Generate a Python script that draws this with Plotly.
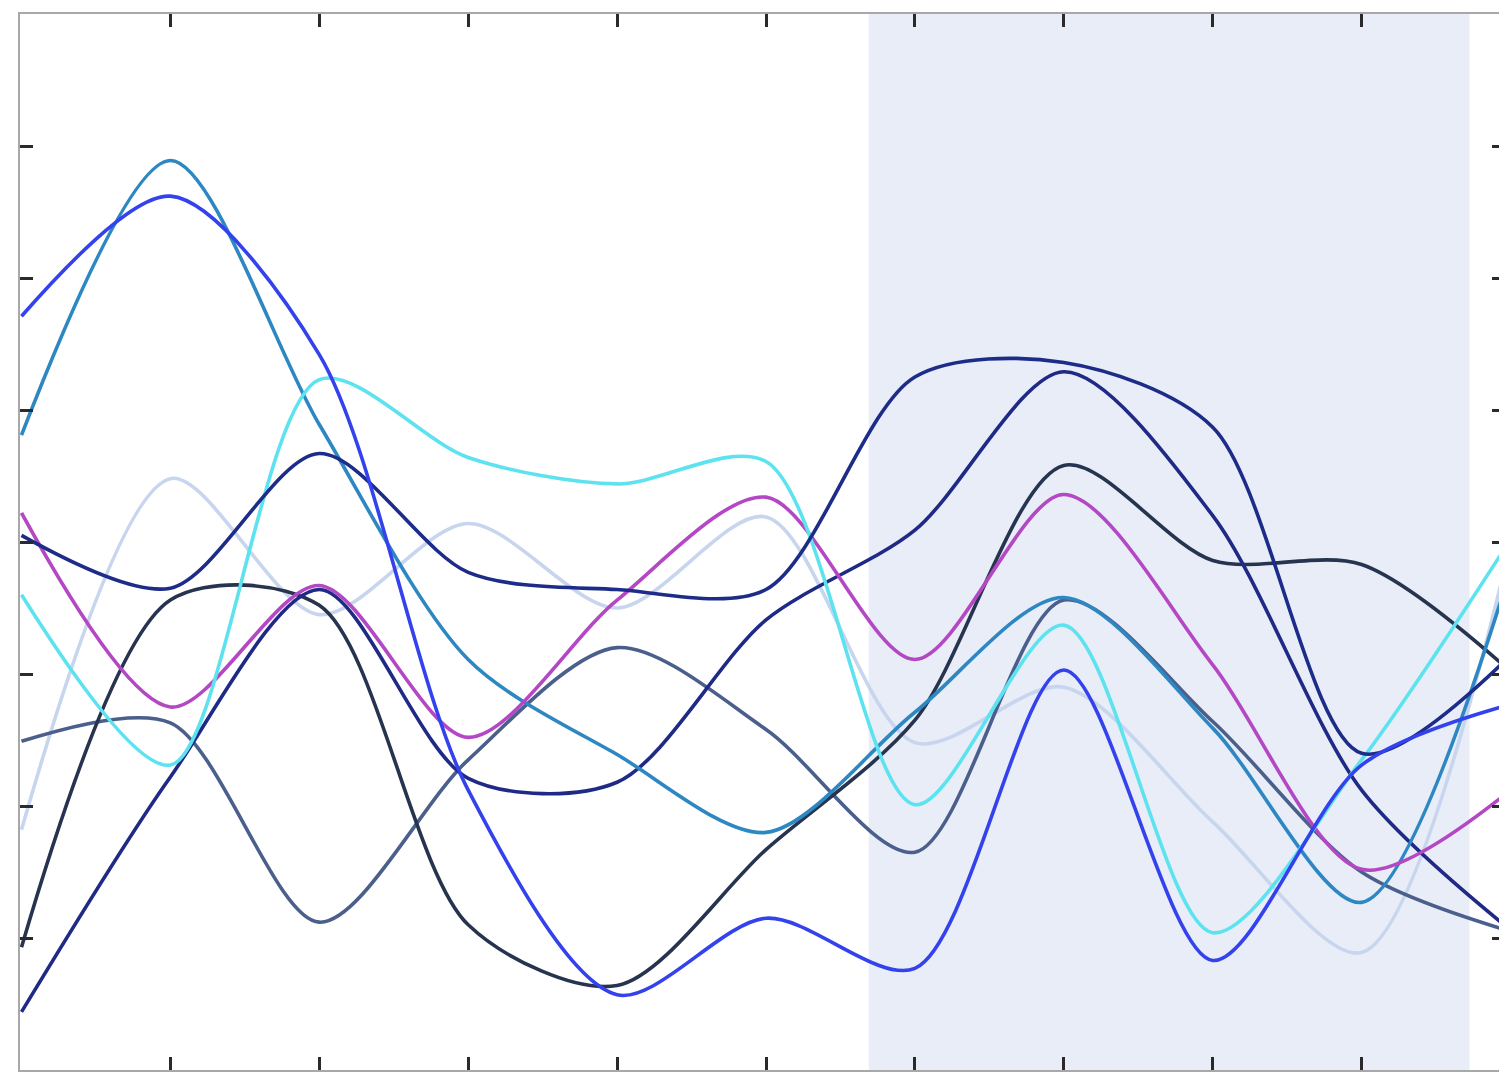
import plotly.graph_objects as go

x_vals = [0, 1, 2, 3, 4, 5, 6, 7, 8, 9, 10]

blue = [5.71, 6.62, 5.42, 2.12, 0.57, 1.15, 0.77, 3.03, 0.83, 2.31, 2.77]
cerulean = [4.81, 6.89, 4.89, 3.11, 2.39, 1.80, 2.71, 3.58, 2.59, 1.27, 3.79]
cyan = [3.60, 2.31, 5.23, 4.64, 4.44, 4.61, 2.01, 3.37, 1.04, 2.35, 4.02]
magenta = [4.22, 2.75, 3.67, 2.52, 3.56, 4.34, 3.11, 4.36, 3.07, 1.52, 2.12]
light_blue = [1.82, 4.48, 3.45, 4.14, 3.50, 4.19, 2.48, 2.90, 1.88, 0.89, 3.98]
navy_a = [4.05, 3.65, 4.67, 3.77, 3.64, 3.64, 5.25, 5.36, 4.87, 2.40, 3.14]
navy_b = [0.44, 2.22, 3.64, 2.21, 2.18, 3.41, 4.09, 5.29, 4.20, 2.12, 1.06]
slate_dark = [0.93, 3.56, 3.52, 1.10, 0.64, 1.67, 2.65, 4.58, 3.86, 3.83, 3.02]
slate_gray = [2.49, 2.63, 1.12, 2.35, 3.20, 2.58, 1.65, 3.56, 2.64, 1.50, 1.05]

x_ticks = [1, 2, 3, 4, 5, 6, 7, 8, 9]
y_ticks = [1, 2, 3, 4, 5, 6, 7]
band = [5.69, 9.725]

series = [
    ("light_blue", light_blue, "#C7D5EE"),
    ("slate_gray", slate_gray, "#4B5F8C"),
    ("slate_dark", slate_dark, "#26344F"),
    ("navy_b", navy_b, "#1E2A86"),
    ("cerulean", cerulean, "#2D87C2"),
    ("magenta", magenta, "#B448C4"),
    ("cyan", cyan, "#5DE2F0"),
    ("navy_a", navy_a, "#1C2C88"),
    ("blue", blue, "#3342EC"),
]

fig = go.Figure()
for name, vals, col in series:
    fig.add_trace(go.Scatter(
        x=x_vals, y=vals, mode="lines", name=name,
        line=dict(color=col, width=3.6, shape="spline", smoothing=0.85),
        showlegend=False,
    ))

fig.add_vrect(x0=band[0], x1=band[1], fillcolor="#E8EDF7", line_width=0, layer="below")

axis_common = dict(
    showgrid=False, zeroline=False, showticklabels=False,
    ticks="inside", ticklen=13, tickwidth=2.5, tickcolor="#2A2A2A",
    showline=True, linecolor="#A8A8A8", linewidth=2, mirror="ticks",
)

fig.update_xaxes(range=[-0.01, 9.963], tickvals=x_ticks, **axis_common)
fig.update_yaxes(range=[0, 8], tickvals=y_ticks, **axis_common)

fig.update_layout(
    width=1499, height=1065,
    margin=dict(l=12, r=0, t=6, b=3),
    plot_bgcolor="#FFFFFF", paper_bgcolor="#FFFFFF",
)

fig.write_html("out.html")
